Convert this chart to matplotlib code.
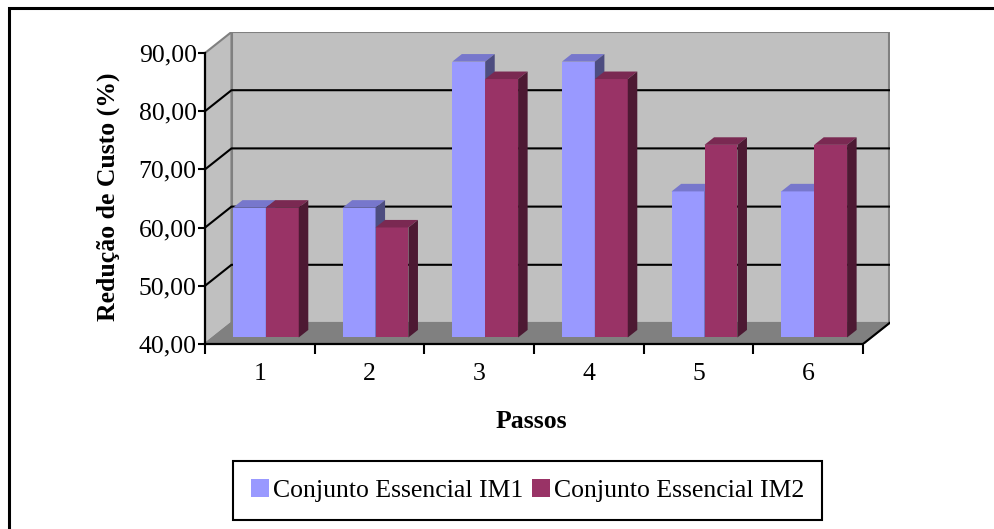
import matplotlib.pyplot as plt
from matplotlib.patches import Polygon, Rectangle
import numpy as np

plt.rcParams['font.family'] = ['Liberation Serif', 'DejaVu Serif']

# data
passos = ['1', '2', '3', '4', '5', '6']
im1 = [62.3, 62.3, 87.4, 87.4, 65.1, 65.1]
im2 = [62.3, 58.9, 84.4, 84.4, 73.1, 73.1]
series_names = ['Conjunto Essencial IM1', 'Conjunto Essencial IM2']
y_ticks = [40, 50, 60, 70, 80, 90]

# colours: front, top, side
cols = [('#9999FF', '#7777CC', '#4D4D80'),
        ('#993366', '#7A2952', '#4D1933')]
wall = '#C0C0C0'
floor_c = '#808080'
edge_c = '#808080'
fs = 18.5

W, H = 994, 529
fig = plt.figure(figsize=(W / 100, H / 100), dpi=100)

# figure border (only top and left visible)
fig.add_artist(Rectangle((8.5 / W, -0.1), 1.2, 1.1 - 8 / H, transform=fig.transFigure,
                         fill=False, edgecolor='black', lw=2.2))

# pixel geometry of the plot box
x0_px, x1_px = 205, 863
y40_px, y90_px = 344, 53
ddx_px, ddy_px = 26.5, 21
ymin, ymax = y_ticks[0], y_ticks[-1]
ncat = len(passos)
DX = ddx_px / ((x1_px - x0_px) / ncat)
DY = ddy_px / ((y40_px - y90_px) / (ymax - ymin))

ax = fig.add_axes([x0_px / W, (H - y40_px) / H,
                   (x1_px + ddx_px - x0_px) / W, (y40_px - y90_px + ddy_px) / H])
ax.set_xlim(0, ncat + DX)
ax.set_ylim(ymin, ymax + DY)
ax.patch.set_visible(False)

# walls and floor
ax.add_patch(Polygon([(0, ymin), (DX, ymin + DY), (DX, ymax + DY), (0, ymax)],
                     closed=True, facecolor=wall, edgecolor=edge_c, lw=1.5, zorder=1))
ax.add_patch(Polygon([(DX, ymin + DY), (ncat + DX, ymin + DY), (ncat + DX, ymax + DY), (DX, ymax + DY)],
                     closed=True, facecolor=wall, edgecolor=edge_c, lw=1.5, zorder=1))
ax.add_patch(Polygon([(0, ymin), (ncat, ymin), (ncat + DX, ymin + DY), (DX, ymin + DY)],
                     closed=True, facecolor=floor_c, edgecolor=edge_c, lw=1.5, zorder=1))
ax.plot([ncat, ncat + DX], [ymin, ymin + DY], color='black', lw=1.5, zorder=2)

# gridlines
for v in y_ticks[1:-1]:
    ax.plot([0, DX, ncat + DX], [v, v + DY, v + DY], color='black', lw=1.5, zorder=2)

# bars
d0 = 0.31       # depth where the bar front face sits
dd = 0.36       # bar depth
bw = 0.30       # bar width
off = 0.18      # offset of first bar inside the category
for i in range(ncat):
    for j, vals in enumerate([im1, im2]):
        v = vals[i]
        front, top, side = cols[j]
        x = i + off + j * bw + d0 * DX
        base = ymin + d0 * DY
        t = v + d0 * DY
        z = 3 + i * 0.1 + j * 0.01
        ax.add_patch(Polygon([(x, base), (x + bw, base), (x + bw, t), (x, t)],
                             closed=True, facecolor=front, edgecolor='none', zorder=z))
        ax.add_patch(Polygon([(x, t), (x + bw, t), (x + bw + dd * DX, t + dd * DY), (x + dd * DX, t + dd * DY)],
                             closed=True, facecolor=top, edgecolor='none', zorder=z))
        ax.add_patch(Polygon([(x + bw, base), (x + bw + dd * DX, base + dd * DY),
                              (x + bw + dd * DX, t + dd * DY), (x + bw, t)],
                             closed=True, facecolor=side, edgecolor='none', zorder=z))

# axes
for s in ['top', 'right']:
    ax.spines[s].set_visible(False)
ax.spines['left'].set_bounds(ymin, ymax)
ax.spines['bottom'].set_bounds(0, ncat)
for s in ['left', 'bottom']:
    ax.spines[s].set_linewidth(1.6)
    ax.spines[s].set_zorder(5)

ax.set_yticks(y_ticks)
ax.set_yticklabels([f'{v:.2f}'.replace('.', ',') for v in y_ticks])
ax.tick_params(axis='y', direction='out', length=5, width=1.5, labelsize=fs, pad=1)

ax.set_xticks(np.arange(ncat + 1))
ax.set_xticklabels([])
ax.set_xticks(np.arange(ncat) + 0.5, minor=True)
ax.set_xticklabels(passos, minor=True)
ax.tick_params(axis='x', which='major', direction='out', length=7, width=1.5)
ax.tick_params(axis='x', which='minor', length=0, labelsize=fs, pad=14)

fig.text(108.5 / W, 1 - 196.5 / H, 'Redução de Custo (%)', rotation=90, ha='center', va='center',
         fontsize=fs, fontweight='bold')
fig.text(531.7 / W, 1 - 421.7 / H, 'Passos', ha='center', va='center',
         fontsize=fs, fontweight='bold')

handles = [Rectangle((0, 0), 1, 1, facecolor=c[0], edgecolor='none') for c in cols]
leg = fig.legend(handles, series_names, loc='center', bbox_to_anchor=(527.5 / W, 1 - 490.5 / H),
                 ncol=2, fontsize=fs, frameon=True, fancybox=False, edgecolor='black',
                 framealpha=1, handlelength=0.7, handleheight=0.7, handletextpad=0.15,
                 columnspacing=0.35, borderpad=0.7, borderaxespad=0)
leg.get_frame().set_linewidth(1.5)

fig.savefig('out.png', dpi=100)
